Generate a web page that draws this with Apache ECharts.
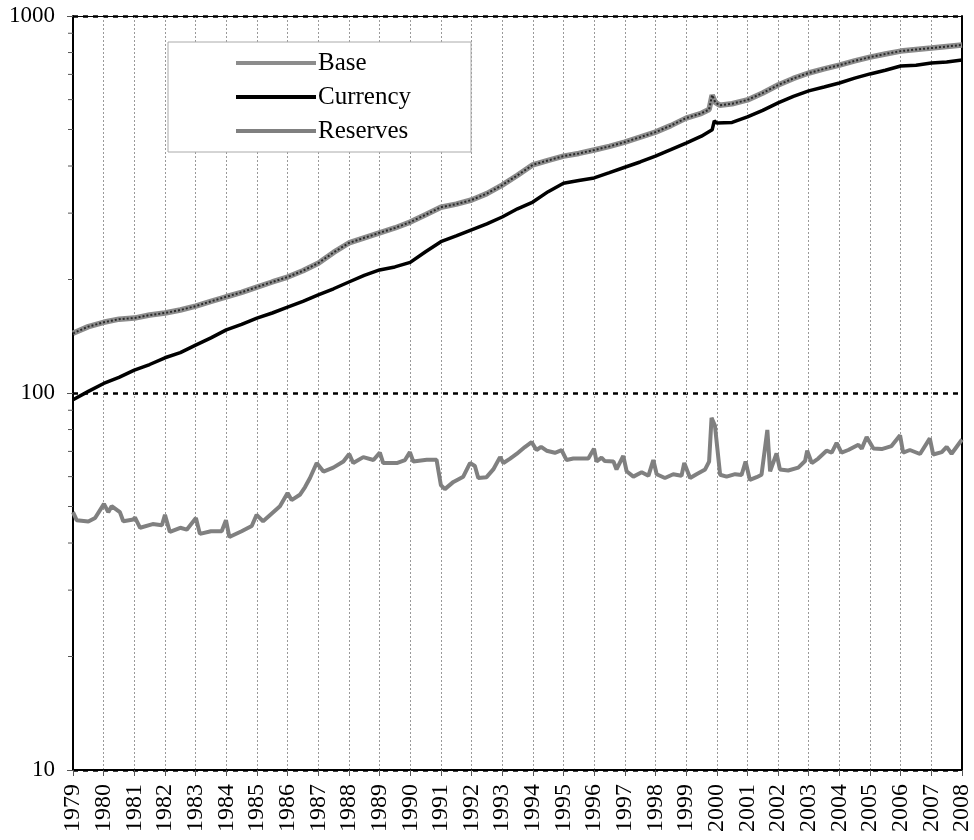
<!DOCTYPE html>
<html>
<head>
<meta charset="utf-8">
<script src="https://cdn.jsdelivr.net/npm/echarts@6/dist/echarts.min.js"></script>
<style>html,body{margin:0;padding:0;background:#fff;}#c{width:974px;height:840px;}</style>
</head>
<body>
<div id="c"></div>
<script>
const yearTicks = [1979,1980,1981,1982,1983,1984,1985,1986,1987,1988,1989,1990,1991,1992,1993,1994,1995,1996,1997,1998,1999,2000,2001,2002,2003,2004,2005,2006,2007,2008];
const yLabels = [10, 100, 1000];
const minorTickValues = [20,30,40,50,60,70,80,90,200,300,400,500,600,700,800,900];

const baseT = [1979.0,1979.5,1980.0,1980.5,1981.0,1981.5,1982.0,1982.5,1983.0,1983.5,1984.0,1984.5,1985.0,1985.5,1986.0,1986.5,1987.0,1987.5,1988.0,1988.5,1989.0,1989.5,1990.0,1990.5,1991.0,1991.5,1992.0,1992.5,1993.0,1993.5,1994.0,1994.5,1995.0,1995.5,1996.0,1996.5,1997.0,1997.5,1998.0,1998.5,1999.0,1999.5,1999.75,1999.85,1999.95,2000.1,2000.5,2001.0,2001.5,2002.0,2002.5,2003.0,2003.5,2004.0,2004.5,2005.0,2005.5,2006.0,2006.5,2007.0,2007.5,2008.0];
const baseV = [144,150,154,157,158,161,163,166,170,175,180,185,191,197,203,211,221,236,250,258,266,274,284,297,311,317,325,338,356,378,403,414,425,432,441,451,463,477,492,512,536,552,565,617,590,580,585,599,625,656,683,706,724,741,760,778,793,807,815,822,830,838];

const currT = [1979.0,1979.5,1980.0,1980.5,1981.0,1981.5,1982.0,1982.5,1983.0,1983.5,1984.0,1984.5,1985.0,1985.5,1986.0,1986.5,1987.0,1987.5,1988.0,1988.5,1989.0,1989.5,1990.0,1990.5,1991.0,1991.5,1992.0,1992.5,1993.0,1993.5,1994.0,1994.5,1995.0,1995.5,1996.0,1996.5,1997.0,1997.5,1998.0,1998.5,1999.0,1999.5,1999.85,1999.92,2000.0,2000.5,2001.0,2001.5,2002.0,2002.5,2003.0,2003.5,2004.0,2004.5,2005.0,2005.5,2006.0,2006.5,2007.0,2007.5,2008.0];
const currV = [96,101,106,110,115,119,124,128,134,140,147,152,158,163,169,175,182,189,197,205,212,216,222,237,252,261,271,281,293,308,321,342,360,366,372,384,397,410,425,442,460,480,499,527,520,522,540,562,588,612,633,648,664,684,702,718,737,740,750,755,764];

const resT = [1979.0,1979.12,1979.5,1979.72,1980.01,1980.15,1980.26,1980.53,1980.64,1980.97,1981.02,1981.19,1981.6,1981.9,1982.0,1982.16,1982.5,1982.71,1983.01,1983.14,1983.5,1983.85,1983.99,1984.1,1984.5,1984.83,1984.99,1985.2,1985.43,1985.75,1986.0,1986.13,1986.4,1986.57,1986.73,1986.95,1987.17,1987.49,1987.82,1988.01,1988.14,1988.47,1988.8,1989.01,1989.12,1989.56,1989.83,1989.99,1990.1,1990.54,1990.86,1991.0,1991.13,1991.41,1991.73,1991.95,1992.11,1992.22,1992.49,1992.71,1992.93,1993.04,1993.26,1993.47,1993.74,1993.96,1994.12,1994.27,1994.45,1994.72,1994.94,1995.1,1995.32,1995.81,1995.995,1996.08,1996.24,1996.35,1996.63,1996.73,1996.95,1997.06,1997.28,1997.55,1997.77,1997.93,1998.04,1998.31,1998.58,1998.85,1998.94,1999.13,1999.34,1999.62,1999.75,1999.83,1999.94,2000.11,2000.32,2000.6,2000.81,2000.94,2001.08,2001.3,2001.46,2001.65,2001.74,2001.95,2002.06,2002.33,2002.66,2002.88,2002.95,2003.1,2003.31,2003.58,2003.75,2003.91,2004.07,2004.29,2004.62,2004.73,2004.89,2005.11,2005.38,2005.7,2005.98,2006.08,2006.3,2006.63,2006.95,2007.06,2007.34,2007.5,2007.66,2008.0];
const resV = [48.3,46.0,45.6,46.6,50.8,48.3,50.1,48.3,45.7,46.2,46.8,43.9,44.9,44.6,47.5,42.8,43.9,43.4,46.6,42.3,43.0,43.0,46.0,41.5,43.0,44.4,47.5,45.7,47.5,50.1,54.3,52.0,53.7,56.3,59.5,65.2,61.9,63.4,65.8,68.9,65.2,67.6,66.4,69.5,65.2,65.2,66.4,69.7,65.8,66.5,66.5,57.0,55.6,58.1,60.0,65.2,64.0,59.5,59.8,62.7,67.6,65.2,67.0,68.9,71.9,74.1,70.6,72.0,70.3,69.4,70.5,66.4,67.0,67.0,71.2,65.8,67.4,66.0,65.8,62.7,68.1,62.0,60.0,61.6,60.3,66.4,60.9,59.5,60.9,60.3,65.2,59.5,60.9,62.7,65.8,85.9,82.0,60.7,60.0,60.9,60.6,65.8,58.8,59.8,60.7,79.8,62.0,69.1,62.7,62.3,63.4,66.0,70.3,65.2,67.0,70.3,69.5,73.7,69.5,70.6,72.9,71.2,76.4,71.2,71.0,72.3,77.2,69.5,70.6,68.9,75.8,68.7,69.7,72.0,69.0,75.3];

const zip = (t, v) => t.map((x, i) => [x, v[i]]);
const FONT = '"Liberation Serif", "Times New Roman", serif';

const chart = echarts.init(document.getElementById('c'), null, {renderer: 'canvas'});
chart.setOption({
  animation: false,
  backgroundColor: '#fff',
  textStyle: {fontFamily: FONT, color: '#000'},
  grid: {left: 73, right: 12, top: 16, bottom: 70, containLabel: false},
  legend: {
    data: ['Base', 'Currency', 'Reserves'],
    orient: 'vertical',
    left: 168, top: 42,
    padding: [8, 60, 8, 68],
    icon: 'rect',
    itemWidth: 80, itemHeight: 4, itemGap: 8,
    borderColor: '#aaa', borderWidth: 1,
    backgroundColor: '#fff',
    textStyle: {fontFamily: FONT, fontSize: 25, color: '#000', padding: [0, 0, 0, -3], lineHeight: 26}
  },
  xAxis: [{
    type: 'value', min: 1979, max: 2008, interval: 1,
    axisLine: {show: true, onZero: false, lineStyle: {color: '#000', width: 2}},
    axisTick: {show: true, length: 6, lineStyle: {color: '#555', width: 1}},
    axisLabel: {
      rotate: 90, margin: 14, fontFamily: FONT, fontSize: 24, color: '#000',
      formatter: v => (yearTicks.indexOf(v) >= 0 ? String(v) : '')
    },
    splitLine: {show: true, lineStyle: {color: '#999', width: 1, type: [2, 2]}}
  }, {
    type: 'value', min: 1979, max: 2008, position: 'top',
    axisLine: {show: true, onZero: false, lineStyle: {color: '#000', width: 1}},
    axisTick: {show: false}, axisLabel: {show: false}, splitLine: {show: false}
  }],
  yAxis: [{
    type: 'log', logBase: 10, min: 10, max: 1000,
    axisLine: {show: true, onZero: false, lineStyle: {color: '#000', width: 2}},
    axisTick: {show: true, length: 6, lineStyle: {color: '#555', width: 1}},
    axisLabel: {
      margin: 18, fontFamily: FONT, fontSize: 23, color: '#000',
      formatter: v => (yLabels.indexOf(Math.round(v)) >= 0 ? String(Math.round(v)) : '')
    },
    splitLine: {show: true, lineStyle: {color: '#000', width: 2.5, type: [5, 5]}}
  }, {
    type: 'log', logBase: 10, min: 10, max: 1000, position: 'right',
    axisLine: {show: true, onZero: false, lineStyle: {color: '#000', width: 2}},
    axisTick: {show: false}, axisLabel: {show: false}, splitLine: {show: false}
  }],
  series: [
    {
      name: 'Base', type: 'line', showSymbol: false, symbol: 'none', z: 3,
      data: zip(baseT, baseV),
      lineStyle: {color: '#8c8c8c', width: 5.5},
      itemStyle: {color: '#8c8c8c'}
    },
    {
      name: 'BaseTexture', type: 'line', showSymbol: false, symbol: 'none', z: 4,
      data: zip(baseT, baseV),
      lineStyle: {color: '#2a2a2a', width: 2, type: [2, 2]},
      itemStyle: {color: '#2a2a2a'}
    },
    {
      name: 'Currency', type: 'line', showSymbol: false, symbol: 'none', z: 5,
      data: zip(currT, currV),
      lineStyle: {color: '#000', width: 3.5},
      itemStyle: {color: '#000'}
    },
    {
      name: 'Reserves', type: 'line', showSymbol: false, symbol: 'none', z: 5,
      data: zip(resT, resV),
      lineStyle: {color: '#808080', width: 4},
      itemStyle: {color: '#808080'}
    },
    {
      name: 'minorTicks', type: 'custom', silent: true, clip: false, z: 6,
      data: minorTickValues.map(v => [yearTicks[0], v]),
      renderItem: (params, api) => {
        const p = api.coord([api.value(0), api.value(1)]);
        return {
          type: 'line',
          shape: {x1: p[0] - 5, y1: p[1], x2: p[0], y2: p[1]},
          style: {stroke: '#555', lineWidth: 1}
        };
      }
    }
  ]
});
</script>
</body>
</html>
